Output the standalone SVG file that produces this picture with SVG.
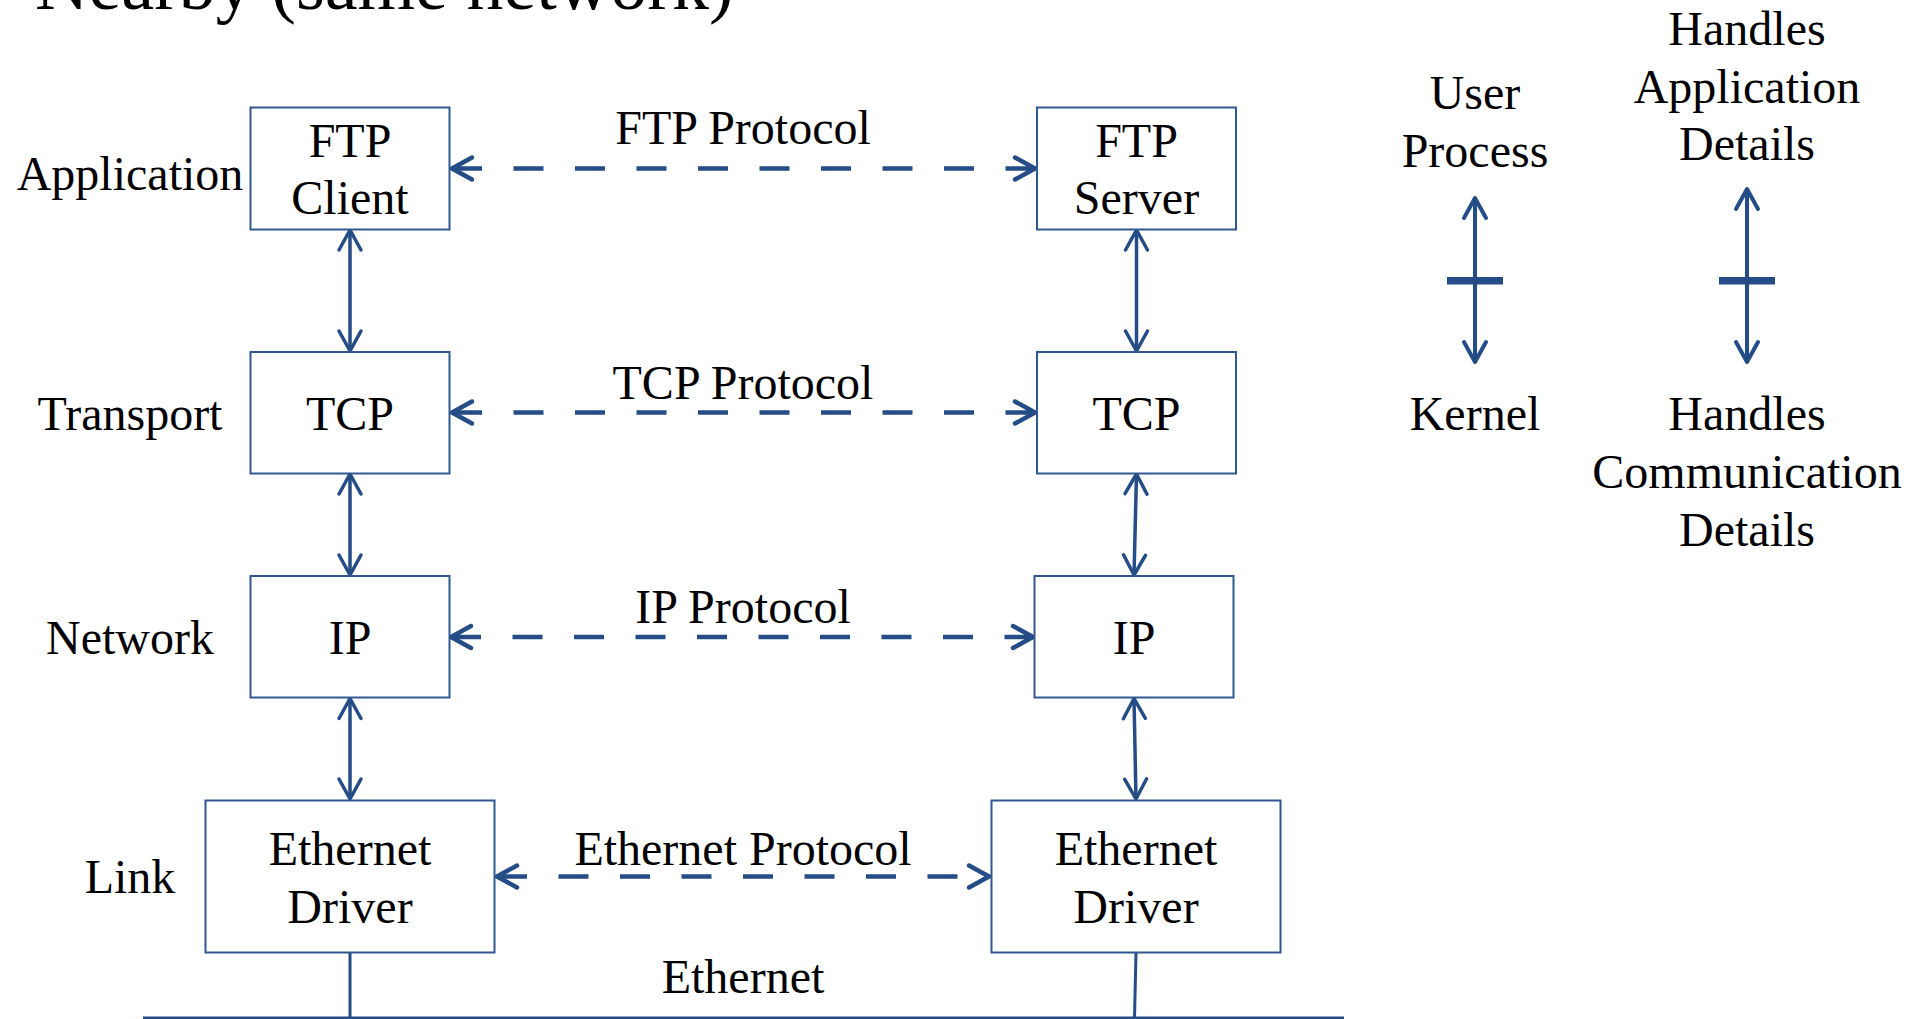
<svg xmlns="http://www.w3.org/2000/svg" width="1912" height="1019" viewBox="0 0 1912 1019">
<style>
text{font-family:"Liberation Serif","Times New Roman",serif;font-size:48px;fill:#000;}
.c{text-anchor:middle;}
.box{fill:#fff;stroke:#30578F;stroke-width:2;}
.v{fill:none;stroke:#244C86;stroke-width:3.5;marker-start:url(#ah);marker-end:url(#ah);}
.lg{fill:none;stroke:#244C86;stroke-width:4;marker-start:url(#ahl);marker-end:url(#ahl);}
.d{fill:none;stroke:#244C86;stroke-width:4.5;stroke-dasharray:30 31.5;marker-start:url(#ahd);marker-end:url(#ahd);}
.plain{fill:none;stroke:#244C86;stroke-width:3;}
</style>
<defs>
<marker id="ah" markerUnits="userSpaceOnUse" markerWidth="30" markerHeight="30" viewBox="-26 -15 30 30" refX="0" refY="0" orient="auto-start-reverse" overflow="visible">
<path d="M-20,-11 L0,0 L-20,11" fill="none" stroke="#244C86" stroke-width="3.5" stroke-linecap="round" stroke-linejoin="round"/>
</marker>
<marker id="ahl" markerUnits="userSpaceOnUse" markerWidth="30" markerHeight="30" viewBox="-26 -15 30 30" refX="0" refY="0" orient="auto-start-reverse" overflow="visible">
<path d="M-20,-11 L0,0 L-20,11" fill="none" stroke="#244C86" stroke-width="4" stroke-linecap="round" stroke-linejoin="round"/>
</marker>
<marker id="ahd" markerUnits="userSpaceOnUse" markerWidth="30" markerHeight="30" viewBox="-26 -15 30 30" refX="0" refY="0" orient="auto-start-reverse" overflow="visible">
<path d="M-20,-11 L0,0 L-20,11" fill="none" stroke="#244C86" stroke-width="4.5" stroke-linecap="round" stroke-linejoin="round"/>
</marker>
</defs>
<rect width="1912" height="1019" fill="#fff"/>
<text x="35" y="9" style="font-size:74px">Nearby (same network)</text>
<g id="layer-labels">
<text class="c" x="130" y="190">Application</text>
<text class="c" x="130" y="430">Transport</text>
<text class="c" x="130" y="654">Network</text>
<text class="c" x="130" y="893">Link</text>
</g>
<g id="connectors">
<path class="d" d="M452,168.5 H1035"/>
<path class="d" d="M452,412.5 H1035"/>
<path class="d" d="M451,637 H1033"/>
<path class="d" d="M497,876.5 H989"/>
<path class="v" d="M350,230 V351"/>
<path class="v" d="M350,474 V575"/>
<path class="v" d="M350,698.5 V799"/>
<path class="v" d="M1136.5,230 V351"/>
<path class="v" d="M1136.5,474 L1134,575"/>
<path class="v" d="M1134,698.5 L1136,799"/>
<path class="plain" d="M350,953 V1018"/>
<path class="plain" d="M1136,953 L1134.5,1018"/>
<path class="plain" d="M143,1018 H1344"/>
<path class="lg" d="M1475,198 V362"/>
<path class="lg" d="M1747,189 V362"/>
<rect x="1447" y="277" width="56" height="7.5" fill="#244C86"/>
<rect x="1719" y="277" width="56" height="7.5" fill="#244C86"/>
</g>
<g id="ftp-client"><rect class="box" x="250.5" y="107.5" width="199" height="122"/><text class="c" x="350" y="157">FTP</text><text class="c" x="350" y="214">Client</text></g>
<g id="ftp-server"><rect class="box" x="1037" y="107.5" width="199" height="122"/><text class="c" x="1136.5" y="157">FTP</text><text class="c" x="1136.5" y="214">Server</text></g>
<g id="tcp-left"><rect class="box" x="250.5" y="352" width="199" height="121.5"/><text class="c" x="350" y="430">TCP</text></g>
<g id="tcp-right"><rect class="box" x="1037" y="352" width="199" height="121.5"/><text class="c" x="1136.5" y="430">TCP</text></g>
<g id="ip-left"><rect class="box" x="250.5" y="576" width="199" height="121.5"/><text class="c" x="350" y="654">IP</text></g>
<g id="ip-right"><rect class="box" x="1034.5" y="576" width="199" height="121.5"/><text class="c" x="1134" y="654">IP</text></g>
<g id="eth-left"><rect class="box" x="205.5" y="800.5" width="289" height="152"/><text class="c" x="350" y="865">Ethernet</text><text class="c" x="350" y="922.5">Driver</text></g>
<g id="eth-right"><rect class="box" x="991.5" y="800.5" width="289" height="152"/><text class="c" x="1136" y="865">Ethernet</text><text class="c" x="1136" y="922.5">Driver</text></g>
<g id="protocol-labels">
<text class="c" x="743" y="144">FTP Protocol</text>
<text class="c" x="743" y="399">TCP Protocol</text>
<text class="c" x="743" y="623">IP Protocol</text>
<text class="c" x="743" y="865">Ethernet Protocol</text>
<text class="c" x="743" y="993">Ethernet</text>
</g>
<g id="legend-user-kernel">
<text class="c" x="1475" y="109">User</text>
<text class="c" x="1475" y="167">Process</text>
<text class="c" x="1475" y="430">Kernel</text>
</g>
<g id="legend-handles">
<text class="c" x="1747" y="45">Handles</text>
<text class="c" x="1747" y="103">Application</text>
<text class="c" x="1747" y="160">Details</text>
<text class="c" x="1747" y="430">Handles</text>
<text class="c" x="1747" y="487.5">Communication</text>
<text class="c" x="1747" y="545.5">Details</text>
</g>
</svg>
